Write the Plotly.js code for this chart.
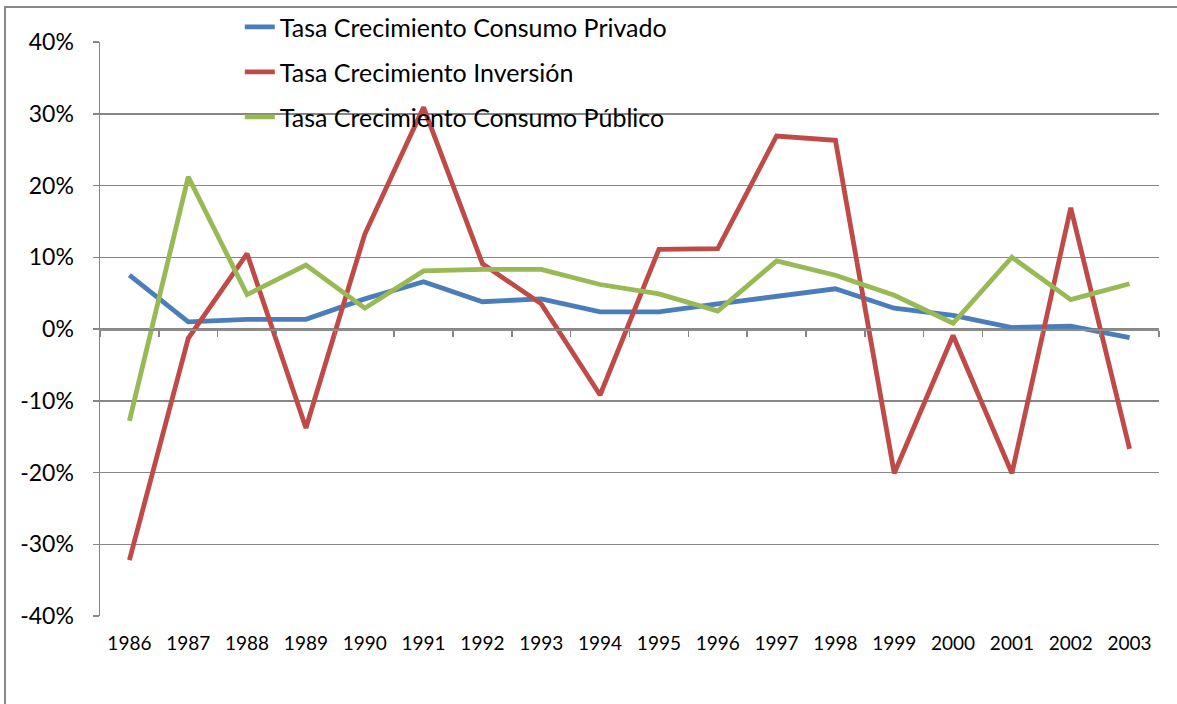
<!DOCTYPE html>
<html>
<head>
<meta charset="utf-8">
<script src="https://cdn.plot.ly/plotly-3.0.1.min.js"></script>
<style>
  html, body { margin: 0; padding: 0; background: #ffffff; }
  #wrap { position: relative; width: 1177px; height: 704px; overflow: hidden; }
  #chart { position: absolute; left: 0; top: 0; width: 1177px; height: 704px; }
  #frame { position: absolute; left: 4px; top: 6px; width: 1200px; height: 720px;
           border-left: 2px solid #878787; border-top: 2px solid #878787; pointer-events: none; }
</style>
</head>
<body>
<div id="wrap">
  <div id="chart"></div>
  <div id="frame"></div>
</div>
<script>
const years = ['1986','1987','1988','1989','1990','1991','1992','1993','1994',
               '1995','1996','1997','1998','1999','2000','2001','2002','2003'];
const consumoPrivado = [7.5, 1.0, 1.35, 1.35, 4.2, 6.6, 3.8, 4.2, 2.4, 2.4, 3.5, 4.5, 5.6, 2.9, 1.9, 0.2, 0.4, -1.2];
const inversion = [-32.2, -1.3, 10.5, -13.8, 13.2, 30.9, 9.1, 3.5, -9.2, 11.1, 11.2, 26.9, 26.3, -20.1, -0.9, -20.1, 16.9, -16.7];
const consumoPublico = [-12.8, 21.2, 4.8, 8.9, 2.9, 8.1, 8.3, 8.3, 6.2, 4.9, 2.5, 9.5, 7.5, 4.7, 0.8, 10.0, 4.1, 6.3];
const seriesNames = ['Tasa Crecimiento Consumo Privado', 'Tasa Crecimiento Inversión', 'Tasa Crecimiento Consumo Público'];
const yTickVals = [-40, -30, -20, -10, 0, 10, 20, 30, 40];
const yTickText = ['-40%', '-30%', '-20%', '-10%', '0%', '10%', '20%', '30%', '40%'];

const colors = ['#4A7EBB', '#BE4B48', '#98B954'];
const FONT = 'Lato, "Open Sans", sans-serif';

const idx = years.map((_, i) => i);
const boundaries = [-0.5].concat(idx.map(i => i + 0.5));

function lineTrace(y, name, color, group) {
  return {
    type: 'scatter', mode: 'lines', x: years, y: y, name: name,
    line: { color: color, width: 4.8 },
    legendgroup: group, hoverinfo: 'skip'
  };
}

const data = [
  lineTrace(consumoPrivado, seriesNames[0], colors[0], 'a'),
  lineTrace(inversion, seriesNames[1], colors[1], 'b'),
  lineTrace(consumoPublico, seriesNames[2], colors[2], 'c'),
  { type: 'scatter', mode: 'lines', x: [], y: [], xaxis: 'x2', showlegend: false, hoverinfo: 'skip' }
];

const layout = {
  width: 1177, height: 704,
  margin: { l: 100, r: 18, t: 42, b: 88, autoexpand: false },
  paper_bgcolor: '#ffffff', plot_bgcolor: '#ffffff',
  font: { family: FONT, color: '#000000' },
  showlegend: true,
  legend: {
    x: 0.132, xanchor: 'left', y: 1.066, yanchor: 'top',
    font: { family: FONT, size: 25, color: '#000000' },
    bgcolor: 'rgba(0,0,0,0)', borderwidth: 0,
    traceorder: 'grouped', tracegroupgap: 9.5
  },
  xaxis: {
    type: 'category', range: [-0.5, 17.5], showgrid: false, zeroline: false,
    showline: false, ticks: '', tickfont: { family: FONT, size: 19 },
    ticklabelstandoff: 14, fixedrange: true
  },
  xaxis2: {
    overlaying: 'x', anchor: 'free', position: 0.5, side: 'bottom',
    range: [-0.5, 17.5], showgrid: false, zeroline: false, showticklabels: false,
    showline: true, linecolor: '#8c8c8c', linewidth: 1.5,
    ticks: 'outside', ticklen: 6, tickwidth: 1.5, tickcolor: '#868686',
    tickmode: 'array', tickvals: boundaries, fixedrange: true
  },
  yaxis: {
    range: [-40, 40], tickmode: 'array', tickvals: yTickVals, ticktext: yTickText,
    showgrid: true, gridcolor: '#868686', gridwidth: 1.5, zeroline: false,
    showline: true, linecolor: '#868686', linewidth: 1.5,
    ticks: 'outside', ticklen: 6, tickwidth: 1.5, tickcolor: '#868686',
    tickfont: { family: FONT, size: 23 }, ticklabelstandoff: 14, fixedrange: true
  }
};

Plotly.newPlot('chart', data, layout, { displayModeBar: false, staticPlot: true });
</script>
</body>
</html>
